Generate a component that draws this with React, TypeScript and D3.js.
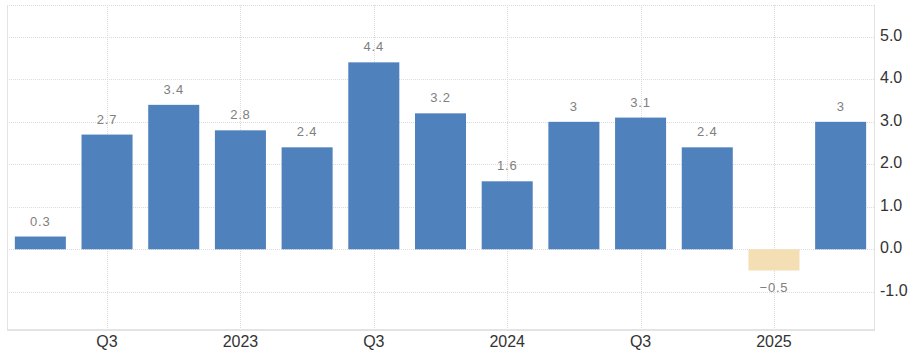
import React from "react";
import * as d3 from "d3";

const categories = ["2022Q2","2022Q3","2022Q4","2023Q1","2023Q2","2023Q3","2023Q4","2024Q1","2024Q2","2024Q3","2024Q4","2025Q1","2025Q2"];
const values = [0.3, 2.7, 3.4, 2.8, 2.4, 4.4, 3.2, 1.6, 3, 3.1, 2.4, -0.5, 3];
const valueLabels = ["0.3","2.7","3.4","2.8","2.4","4.4","3.2","1.6","3","3.1","2.4","\u22120.5","3"];
const xTickCats = ["2022Q3","2023Q1","2023Q3","2024Q1","2024Q3","2025Q1"];
const xTickLabels = ["Q3","2023","Q3","2024","Q3","2025"];
const yTicks = [-1, 0, 1, 2, 3, 4, 5];

const W = 913, H = 356;
const left = 7, right = 874, top = 5, bottom = 330;

export default function App() {
  const x = d3.scaleBand<string>().domain(categories).range([left, right]).paddingInner(0.235).paddingOuter(0.1175);
  const y = d3.scaleLinear().domain([-1.9, 5.75]).range([bottom, top]);
  const font = "'Liberation Sans', Arial, sans-serif";
  return (
    <svg width={W} height={H} style={{ position: "absolute", left: 0, top: 0, background: "#fff" }}>
      {/* grid */}
      {yTicks.map((t) => (
        <line key={"gy" + t} x1={left} x2={right} y1={Math.round(y(t)) + 0.5} y2={Math.round(y(t)) + 0.5} stroke="#dcdcdc" strokeDasharray="1,1" />
      ))}
      <line x1={left} x2={right} y1={top + 0.5} y2={top + 0.5} stroke="#dcdcdc" strokeDasharray="1,1" />
      {xTickCats.map((c) => {
        const cx = Math.round(x(c)! + x.bandwidth() / 2) + 0.5;
        return <line key={"gx" + c} x1={cx} x2={cx} y1={top} y2={bottom} stroke="#dcdcdc" strokeDasharray="1,1" />;
      })}
      {/* borders */}
      <line x1={left + 0.5} x2={left + 0.5} y1={top} y2={bottom} stroke="#e3e3e3" />
      <line x1={right + 0.5} x2={right + 0.5} y1={top} y2={bottom} stroke="#e3e3e3" />
      <line x1={left} x2={right + 1} y1={bottom} y2={bottom} stroke="#e3e3e3" strokeWidth={2} />
      {/* bars */}
      {values.map((v, i) => {
        const c = categories[i];
        const y0 = y(0), y1 = y(v);
        return (
          <rect key={c} x={x(c)} width={x.bandwidth()} y={Math.min(y0, y1)} height={Math.abs(y1 - y0)}
            fill={v >= 0 ? "#4f81bd" : "#f4deb3"} />
        );
      })}
      {/* value labels */}
      {values.map((v, i) => {
        const c = categories[i];
        const cx = x(c)! + x.bandwidth() / 2;
        const ly = v >= 0 ? y(v) - 11 : y(v) + 21;
        return (
          <text key={"l" + c} x={cx} y={ly} textAnchor="middle" fontFamily={font} fontSize={13} fill="#808080" letterSpacing={0.8}>
            {valueLabels[i]}
          </text>
        );
      })}
      {/* y labels */}
      {yTicks.map((t) => (
        <text key={"ty" + t} x={880} y={y(t) + 4} fontFamily={font} fontSize={16} fill="#333">
          {d3.format(".1f")(t).replace("\u2212", "-")}
        </text>
      ))}
      {/* x labels */}
      {xTickCats.map((c, i) => (
        <text key={"tx" + c} x={x(c)! + x.bandwidth() / 2} y={347} textAnchor="middle" fontFamily={font} fontSize={16} fill="#333">
          {xTickLabels[i]}
        </text>
      ))}
    </svg>
  );
}
